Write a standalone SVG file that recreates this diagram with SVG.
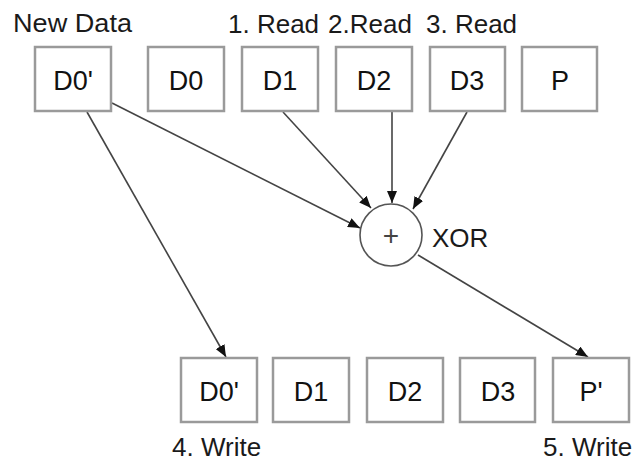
<svg xmlns="http://www.w3.org/2000/svg" width="641" height="464" viewBox="0 0 641 464">
<style>
.box{fill:#fff;stroke:#9a9a9a;stroke-width:2.5}
.lbl{font-family:"Liberation Sans",Arial,sans-serif;font-size:26px;fill:#1a1a1a}
.bt{font-family:"Liberation Sans",Arial,sans-serif;font-size:27px;fill:#111;text-anchor:middle}
.conn{stroke:#444;stroke-width:1.6;fill:none;marker-end:url(#ah)}
</style>
<defs>
<marker id="ah" markerUnits="userSpaceOnUse" markerWidth="12" markerHeight="10" viewBox="0 0 12 10" refX="12" refY="5" orient="auto">
<path d="M0,0 L12,5 L0,10 Z" fill="#111"/>
</marker>
</defs>
<rect width="641" height="464" fill="#fff"/>
<g id="labels">
<text class="lbl" x="13" y="32" textLength="119" lengthAdjust="spacingAndGlyphs">New Data</text>
<text class="lbl" x="228" y="33">1. Read</text>
<text class="lbl" x="328" y="33">2.Read</text>
<text class="lbl" x="426" y="33">3. Read</text>
<text class="lbl" x="172" y="456" font-size="25">4. Write</text>
<text class="lbl" x="543" y="456" font-size="25">5. Write</text>
</g>
<g id="connectors">
<line class="conn" x1="112" y1="103" x2="360" y2="228"/>
<line class="conn" x1="87" y1="112" x2="226" y2="357"/>
<line class="conn" x1="283" y1="112" x2="371" y2="208"/>
<line class="conn" x1="392" y1="112" x2="392" y2="203"/>
<line class="conn" x1="467" y1="112" x2="413" y2="209"/>
<line class="conn" x1="418" y1="255" x2="588" y2="357"/>
</g>
<g id="top-D0new"><rect class="box" x="35" y="47" width="76" height="64"/><text class="bt" x="73" y="90">D0'</text></g>
<g id="top-D0"><rect class="box" x="148" y="47" width="76" height="64"/><text class="bt" x="186" y="90">D0</text></g>
<g id="top-D1"><rect class="box" x="242" y="47" width="76" height="64"/><text class="bt" x="280" y="90">D1</text></g>
<g id="top-D2"><rect class="box" x="336" y="47" width="76" height="64"/><text class="bt" x="374" y="90">D2</text></g>
<g id="top-D3"><rect class="box" x="430" y="47" width="75" height="64"/><text class="bt" x="467" y="90">D3</text></g>
<g id="top-P"><rect class="box" x="522" y="47" width="75" height="64"/><text class="bt" x="560" y="90">P</text></g>
<g id="xor"><circle cx="391" cy="235" r="31" fill="#fff" stroke="#555" stroke-width="1.6"/><text x="391" y="245" text-anchor="middle" font-family="Liberation Sans, Arial, sans-serif" font-size="28" fill="#444">+</text><text class="lbl" x="432" y="247">XOR</text></g>
<g id="bot-D0new"><rect class="box" x="181" y="358" width="76" height="64"/><text class="bt" x="219" y="401">D0'</text></g>
<g id="bot-D1"><rect class="box" x="273" y="358" width="76" height="64"/><text class="bt" x="311" y="401">D1</text></g>
<g id="bot-D2"><rect class="box" x="367" y="358" width="76" height="64"/><text class="bt" x="405" y="401">D2</text></g>
<g id="bot-D3"><rect class="box" x="460" y="358" width="75" height="64"/><text class="bt" x="498" y="401">D3</text></g>
<g id="bot-Pnew"><rect class="box" x="553" y="358" width="76" height="64"/><text class="bt" x="591" y="401">P'</text></g>
</svg>
